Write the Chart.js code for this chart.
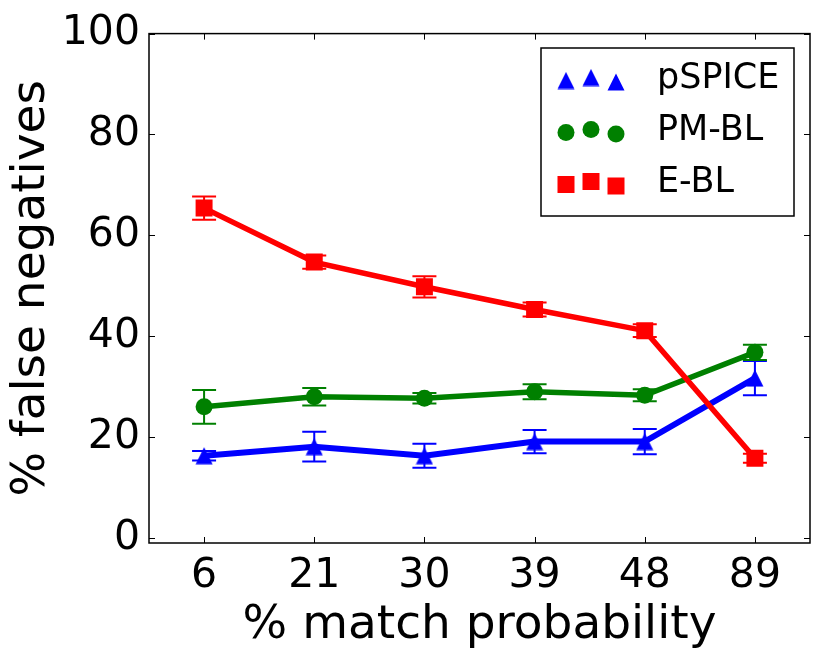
<!DOCTYPE html>
<html>
<head>
<meta charset="utf-8">
<script src="https://cdn.jsdelivr.net/npm/chart.js@4.4.0/dist/chart.umd.min.js"></script>
<style>
html, body { margin: 0; padding: 0; background: #fff; }
</style>
</head>
<body>
<canvas id="graficoFN" width="822" height="663"></canvas>
<script>
// valores
const categorias = ['6', '21', '30', '39', '48', '89'];
const ticksY = [0, 20, 40, 60, 80, 100];
const nombres = ['pSPICE', 'PM-BL', 'E-BL'];

const pspice = [16.3, 18.1, 16.3, 19.1, 19.1, 31.7];
const pspiceErr = [0.95, 2.95, 2.4, 2.3, 2.5, 3.4];
const pmbl = [26.0, 28.0, 27.7, 29.0, 28.3, 36.8];
const pmblErr = [3.35, 1.75, 1.05, 1.5, 1.2, 1.5];
const ebl = [65.4, 54.7, 49.8, 45.3, 41.1, 15.8];
const eblErr = [2.3, 1.3, 2.1, 1.4, 1.25, 0.9];

const fuente = 'DejaVu Sans';
Chart.defaults.font.family = fuente;
Chart.defaults.color = '#000';

// triangulo estilo matplotlib ('^')
function trianguloMarca(color) {
    const c = document.createElement('canvas');
    c.width = 18;
    c.height = 18;
    const g = c.getContext('2d');
    g.fillStyle = color;
    g.beginPath();
    g.moveTo(9, 0.5);
    g.lineTo(17.5, 17.5);
    g.lineTo(0.5, 17.5);
    g.closePath();
    g.fill();
    return c;
}
const triAzul = trianguloMarca('#0000ff');

// barras de error con las escalas del grafico
const barrasError = {
    id: 'barrasError',
    afterDatasetDraw(chart, args) {
        const ds = chart.data.datasets[args.index];
        if (!ds.errores) return;
        const y = chart.scales.y;
        const ctx = chart.ctx;
        ctx.save();
        ctx.strokeStyle = ds.borderColor;
        ctx.lineWidth = 2;
        args.meta.data.forEach(function(p, i) {
            const v = ds.data[i];
            const e = ds.errores[i];
            const y1 = y.getPixelForValue(v + e);
            const y2 = y.getPixelForValue(v - e);
            ctx.beginPath();
            ctx.moveTo(p.x, y1);
            ctx.lineTo(p.x, y2);
            ctx.moveTo(p.x - 12, y1);
            ctx.lineTo(p.x + 12, y1);
            ctx.moveTo(p.x - 12, y2);
            ctx.lineTo(p.x + 12, y2);
            ctx.stroke();
        });
        ctx.restore();
    }
};

// marco, ticks hacia adentro y leyenda
const marcoLeyenda = {
    id: 'marcoLeyenda',
    afterDraw(chart) {
        const ctx = chart.ctx;
        const a = chart.chartArea;
        const x = chart.scales.x;
        const y = chart.scales.y;
        ctx.save();
        ctx.strokeStyle = '#000';
        ctx.lineWidth = 1;
        ctx.beginPath();
        ticksY.forEach(function(v) {
            const py = Math.round(y.getPixelForValue(v)) + 0.5;
            ctx.moveTo(a.left, py);
            ctx.lineTo(a.left + 6, py);
            ctx.moveTo(a.right, py);
            ctx.lineTo(a.right - 6, py);
        });
        categorias.forEach(function(c, i) {
            const px = Math.round(x.getPixelForValue(i)) + 0.5;
            ctx.moveTo(px, a.bottom);
            ctx.lineTo(px, a.bottom - 6);
            ctx.moveTo(px, a.top);
            ctx.lineTo(px, a.top + 6);
        });
        ctx.stroke();
        ctx.lineWidth = 1.5;
        ctx.strokeRect(a.left, a.top, a.right - a.left, a.bottom - a.top);

        // leyenda
        const lx = 541, ly = 48, lw = 253, lh = 168;
        ctx.fillStyle = '#fff';
        ctx.fillRect(lx, ly, lw, lh);
        ctx.lineWidth = 1.5;
        ctx.strokeRect(lx, ly, lw, lh);
        const desfases = [0.5, -2.5, 2];
        const xs = [566, 591, 616];
        ctx.font = '35px "' + fuente + '"';
        ctx.textBaseline = 'middle';
        ctx.textAlign = 'left';
        chart.data.datasets.forEach(function(ds) {
            const cy = 80 + ds.filaLeyenda * 52;
            ctx.fillStyle = ds.borderColor;
            xs.forEach(function(mx, j) {
                const my = cy + desfases[j];
                if (ds.pointStyle === 'circle') {
                    ctx.beginPath();
                    ctx.arc(mx, my, 8.5, 0, Math.PI * 2);
                    ctx.fill();
                } else if (ds.pointStyle === 'rect') {
                    ctx.fillRect(mx - 8.5, my - 8.5, 17, 17);
                } else {
                    ctx.drawImage(ds.pointStyle, mx - 9, my - 9);
                }
            });
            ctx.fillStyle = '#000';
            ctx.fillText(ds.label, 657, cy - 1);
        });
        ctx.restore();
    }
};

new Chart(document.getElementById('graficoFN'), {
    type: 'line',
    data: {
        labels: categorias,
        datasets: [{
            label: nombres[0],
            data: pspice,
            errores: pspiceErr,
            filaLeyenda: 0,
            order: 2,
            borderColor: '#0000ff',
            backgroundColor: '#0000ff',
            borderWidth: 6,
            pointStyle: triAzul,
            pointRadius: 9,
            pointBorderWidth: 0
        }, {
            label: nombres[1],
            data: pmbl,
            errores: pmblErr,
            filaLeyenda: 1,
            order: 1,
            borderColor: '#008000',
            backgroundColor: '#008000',
            borderWidth: 5.5,
            pointStyle: 'circle',
            pointRadius: 8.5,
            pointBorderWidth: 0
        }, {
            label: nombres[2],
            data: ebl,
            errores: eblErr,
            filaLeyenda: 2,
            order: 0,
            borderColor: '#ff0000',
            backgroundColor: '#ff0000',
            borderWidth: 5.5,
            pointStyle: 'rect',
            pointRadius: 12,
            pointBorderWidth: 0
        }]
    },
    options: {
        responsive: false,
        animation: false,
        devicePixelRatio: 1,
        layout: { padding: { top: 30, right: 10, left: 0, bottom: 0 } },
        plugins: {
            legend: { display: false },
            tooltip: { enabled: false }
        },
        elements: { line: { tension: 0 } },
        scales: {
            x: {
                offset: true,
                grid: { display: false, drawTicks: false },
                border: { display: false },
                ticks: { font: { size: 41 }, padding: 9, maxRotation: 0, autoSkip: false },
                title: { display: true, text: '% match probability', font: { size: 47 }, padding: { top: 0, bottom: 9.4 } },
                afterFit(s) { s.height = 120; }
            },
            y: {
                min: -1,
                max: 100,
                grid: { display: false, drawTicks: false },
                border: { display: false },
                ticks: { font: { size: 41 }, padding: 9 },
                afterBuildTicks(s) { s.ticks = ticksY.map(v => ({ value: v })); },
                title: { display: true, text: '% false negatives', font: { size: 47 }, padding: { top: 3.5, bottom: 0 } },
                afterFit(s) { s.width = 149; }
            }
        }
    },
    plugins: [barrasError, marcoLeyenda]
});
</script>
</body>
</html>
